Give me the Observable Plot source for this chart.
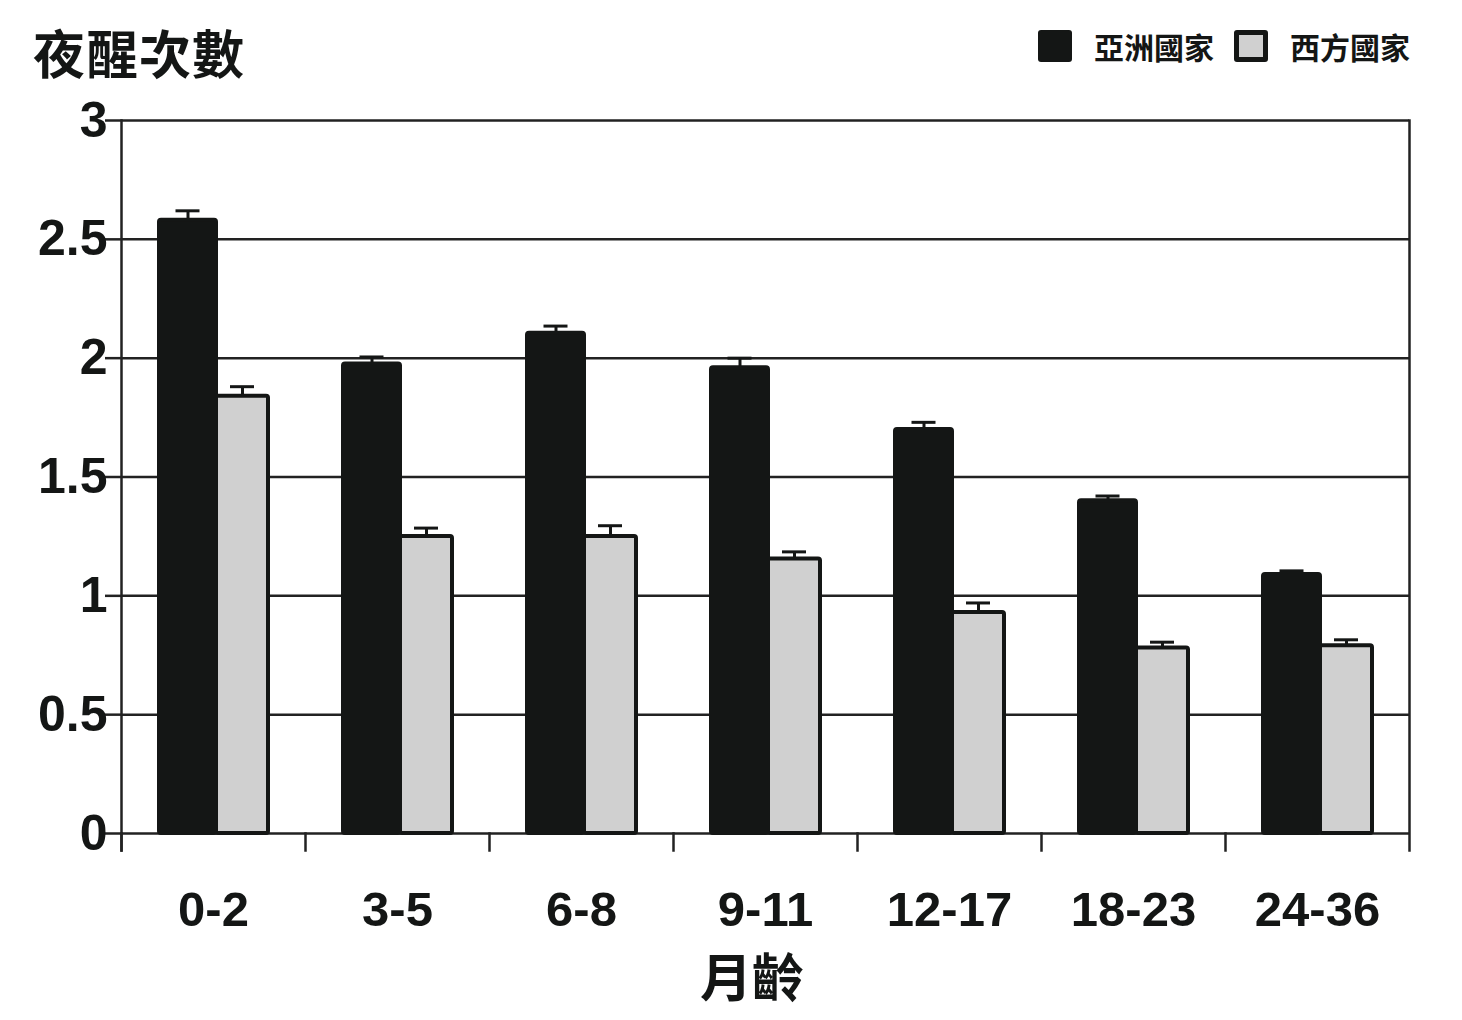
<!DOCTYPE html>
<html>
<head>
<meta charset="utf-8">
<script src="https://cdn.jsdelivr.net/npm/d3@7"></script>
<script src="https://cdn.jsdelivr.net/npm/@observablehq/plot@0.6"></script>
<style>
  body { margin: 0; background: #fff; }
  #wrap { position: relative; width: 1462px; height: 1020px; color: #141615; font-family: "Liberation Sans", Arial, "Noto Sans CJK TC", sans-serif; }
  #title { position: absolute; left: 33px; top: 26px; font: bold 52px/1 "Noto Sans CJK TC", sans-serif; letter-spacing: 1px; }
  #legend { position: absolute; left: 1038px; top: 30px; display: flex; align-items: center; font: bold 30px/1 "Noto Sans CJK TC", sans-serif; }
  .sw { width: 34px; height: 32px; box-sizing: border-box; border-radius: 3px; margin-right: 22px; }
  .lab { margin-right: 20px; }
  #chart { position: absolute; left: 0; top: 90px; }
  #xlabel { position: absolute; left: 700px; top: 949px; font: bold 52px/1 "Noto Sans CJK TC", sans-serif; }
</style>
</head>
<body>
<div id="wrap">
  <div id="title">夜醒次數</div>
  <div id="legend"></div>
  <div id="chart"></div>
  <div id="xlabel">月齡</div>
</div>
<script>
const ages = ["0-2", "3-5", "6-8", "9-11", "12-17", "18-23", "24-36"];
const regions = ["亞洲國家", "西方國家"];
const asiaValues = [2.58, 1.975, 2.105, 1.96, 1.70, 1.40, 1.09];
const asiaErrors = [0.04, 0.03, 0.03, 0.04, 0.03, 0.02, 0.015];
const westValues = [1.84, 1.25, 1.25, 1.155, 0.93, 0.78, 0.79];
const westErrors = [0.04, 0.035, 0.045, 0.03, 0.04, 0.025, 0.025];
const yTicks = [0, 0.5, 1, 1.5, 2, 2.5, 3];

const rows = ages.flatMap((age, i) => [
  {age, region: regions[0], value: asiaValues[i], err: asiaErrors[i]},
  {age, region: regions[1], value: westValues[i], err: westErrors[i]}
]);
const asiaRows = rows.filter(d => d.region === regions[0]);
const westRows = rows.filter(d => d.region === regions[1]);

const ink = "#141615";
const fills = [ink, "#d0d0d0"];

// legend
const legend = document.getElementById("legend");
regions.forEach((r, i) => {
  const sw = document.createElement("div");
  sw.className = "sw";
  sw.style.background = fills[i];
  if (i === 1) sw.style.border = "5px solid " + ink;
  const lab = document.createElement("div");
  lab.className = "lab";
  lab.textContent = r;
  legend.append(sw, lab);
});

const chart = Plot.plot({
  width: 1462,
  height: 860,
  marginTop: 30,
  marginBottom: 117,
  marginLeft: 121,
  marginRight: 53,
  style: {fontFamily: '"Liberation Sans", Arial, sans-serif', background: "white", color: ink},
  fx: {domain: ages, padding: 0, axis: null},
  x: {domain: regions, paddingInner: 0, paddingOuter: 0.673, axis: null},
  y: {domain: [0, 3], axis: null},
  color: {domain: regions, range: fills},
  marks: [
    Plot.ruleY(yTicks, {stroke: "#222", strokeWidth: 2.5}),
    Plot.frame({anchor: "left", facetAnchor: "left", insetBottom: -17, stroke: "#222", strokeWidth: 2.5}),
    Plot.frame({anchor: "right", facetAnchor: "right", insetBottom: -17, stroke: "#222", strokeWidth: 2.5}),
    Plot.frame({anchor: "left", insetTop: 713, insetBottom: -17, stroke: "#222", strokeWidth: 2.5}),
    Plot.ruleX(asiaRows, {fx: "age", x: "region", dx: 1.5, y1: "value", y2: d => d.value + d.err, stroke: ink, strokeWidth: 3}),
    Plot.tickY(asiaRows, {fx: "age", x: "region", dx: 1.5, y: d => d.value + d.err, inset: 15, stroke: ink, strokeWidth: 3}),
    Plot.ruleX(westRows, {fx: "age", x: "region", dx: 2, y1: "value", y2: d => d.value + d.err, stroke: ink, strokeWidth: 3}),
    Plot.tickY(westRows, {fx: "age", x: "region", dx: 2, y: d => d.value + d.err, inset: 15, stroke: ink, strokeWidth: 3}),
    Plot.barY(westRows, {fx: "age", x: "region", y: "value", fill: "region", stroke: ink, strokeWidth: 4, rx: 2, insetLeft: 3, insetRight: -1}),
    Plot.barY(asiaRows, {fx: "age", x: "region", y: "value", fill: "region", stroke: ink, strokeWidth: 4, rx: 2, insetRight: -3}),
    Plot.axisY({ticks: yTicks, tickFormat: d => String(d), tickSize: 16, tickPadding: -2, fontSize: 50, fontWeight: "bold", label: null, stroke: "#222", strokeWidth: 2.5, fill: ink}),
    Plot.axisFx({anchor: "bottom", tickSize: 0, tickPadding: 58, fontSize: 49, fontWeight: "bold", label: null, fill: ink})
  ]
});
document.getElementById("chart").append(chart);
</script>
</body>
</html>
